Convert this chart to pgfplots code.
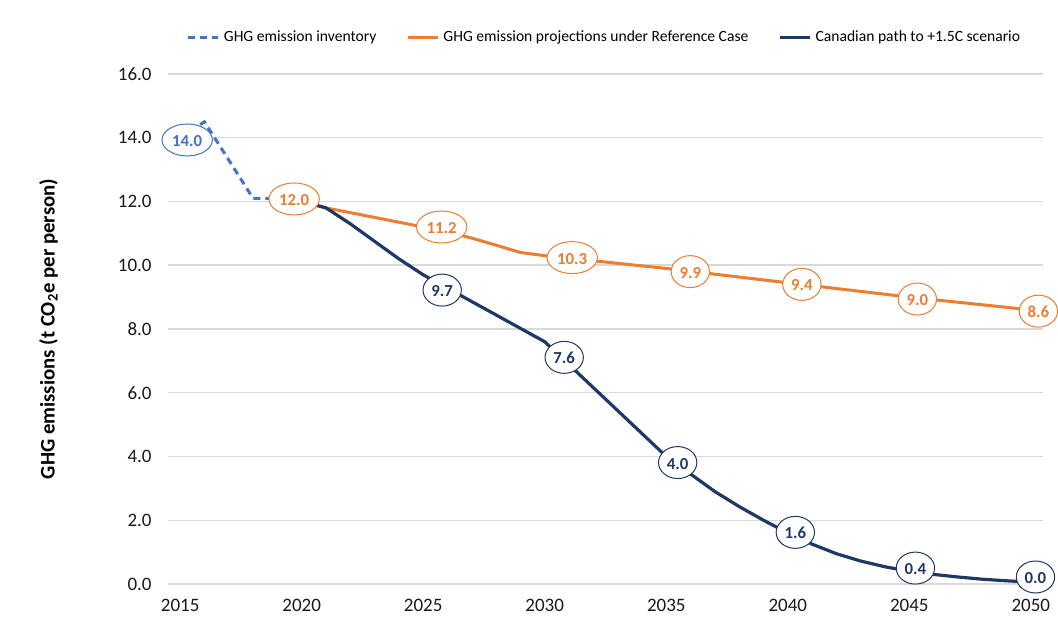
\documentclass[border=0pt]{standalone}
\usepackage{fontspec}
\setmainfont{Carlito}
\usepackage{pgfplots}
\pgfplotsset{compat=1.18}
\usetikzlibrary{shapes.geometric}
\definecolor{gridgray}{HTML}{D9D9D9}
\definecolor{invblue}{HTML}{4472C4}
\definecolor{refor}{HTML}{ED7D31}
\definecolor{navy}{HTML}{203864}
\tikzset{dlab/.style={ellipse, fill=white, draw=#1, line width=0.5pt, text=#1,
    font=\fontsize{8.4}{9}\selectfont\bfseries, inner xsep=1.4pt, inner ysep=2.4pt,
    text height=0.65em, text depth=0pt}}
\begin{document}
\begin{tikzpicture}
\useasboundingbox (0,0) rectangle (529pt,315.5pt);
\begin{axis}[
  at={(84pt,23.5pt)}, anchor=south west,
  scale only axis, width=437.5pt, height=255pt,
  xmin=2014.5, xmax=2050.5, ymin=0, ymax=16,
  clip=false,
  axis line style={draw=none},
  major tick length=0pt,
  xtick={2015,2020,2025,2030,2035,2040,2045,2050},
  xticklabels={2015,2020,2025,2030,2035,2040,2045,2050},
  ytick={0,2,4,6,8,10,12,14,16},
  yticklabel={\pgfmathprintnumber[fixed,fixed zerofill,precision=1]{\tick}},
  /pgf/number format/assume math mode=true,
  ymajorgrids, grid style={gridgray, line width=0.75pt},
  ticklabel style={font=\fontsize{9.5}{11}\selectfont, text=black!90},
  xticklabel style={anchor=north, inner sep=0pt, yshift=-7.3pt},
  yticklabel style={anchor=east, inner sep=0pt, xshift=-8pt},
  ylabel={\textbf{GHG emissions (t CO\textsubscript{2}e per person)}},
  ylabel style={at={(axis description cs:-0.1366,0.5)}, anchor=center, font=\fontsize{10.4}{12}\selectfont},
  legend style={at={(0.5,1.071)}, anchor=center, draw=none, fill=none,
    legend columns=3, font=\fontsize{7.8}{9}\selectfont,
    /tikz/every even column/.append style={column sep=13pt}},
  legend cell align=left,
  legend image code/.code={\draw[#1] (0pt,0pt) -- (15pt,0pt);},
]
\addplot[invblue, line width=1.5pt, dash pattern=on 3.5pt off 2.5pt] coordinates {
 (2015,14.0) (2016,14.5) (2017,13.3) (2018,12.1) (2019,12.1) (2020,12.0)};
\addlegendentry{GHG emission inventory}
\addplot[refor, line width=1.5pt] coordinates {
 (2020,12.0) (2021,11.8) (2022,11.65) (2023,11.5) (2024,11.35) (2025,11.2)
 (2026,11.05) (2027,10.85) (2028,10.63) (2029,10.4) (2030,10.3)
 (2031,10.22) (2032,10.14) (2033,10.06) (2034,9.98) (2035,9.9)
 (2036,9.81) (2037,9.72) (2038,9.63) (2039,9.54) (2040,9.45)
 (2041,9.36) (2042,9.27) (2043,9.18) (2044,9.09) (2045,9.0)
 (2046,8.92) (2047,8.84) (2048,8.76) (2049,8.68) (2050,8.6)};
\addlegendentry{GHG emission projections under Reference Case}
\addplot[navy, line width=1.6pt] coordinates {
 (2020,12.0) (2021,11.8) (2022,11.3) (2023,10.75) (2024,10.2) (2025,9.7)
 (2026,9.28) (2027,8.86) (2028,8.44) (2029,8.02) (2030,7.6)
 (2031,6.88) (2032,6.16) (2033,5.44) (2034,4.72) (2035,4.0)
 (2036,3.45) (2037,2.9) (2038,2.43) (2039,2.0) (2040,1.6)
 (2041,1.25) (2042,0.95) (2043,0.72) (2044,0.54) (2045,0.4)
 (2046,0.3) (2047,0.22) (2048,0.15) (2049,0.1) (2050,0.06)};
\addlegendentry{Canadian path to +1.5C scenario}
\node[dlab=invblue] at (axis cs:2015.29,13.93) {14.0};
\node[dlab=refor] at (axis cs:2019.69,12.08) {12.0};
\node[dlab=refor] at (axis cs:2025.76,11.2) {11.2};
\node[dlab=refor] at (axis cs:2031.13,10.24) {10.3};
\node[dlab=refor] at (axis cs:2035.99,9.8) {9.9};
\node[dlab=refor] at (axis cs:2040.58,9.40) {9.4};
\node[dlab=refor] at (axis cs:2045.33,8.94) {9.0};
\node[dlab=refor] at (axis cs:2050.31,8.56) {8.6};
\node[dlab=navy] at (axis cs:2025.78,9.22) {9.7};
\node[dlab=navy] at (axis cs:2030.8,7.11) {7.6};
\node[dlab=navy] at (axis cs:2035.47,3.81) {4.0};
\node[dlab=navy] at (axis cs:2040.31,1.62) {1.6};
\node[dlab=navy] at (axis cs:2045.25,0.5) {0.4};
\node[dlab=navy] at (axis cs:2050.19,0.22) {0.0};
\end{axis}
\end{tikzpicture}
\end{document}
